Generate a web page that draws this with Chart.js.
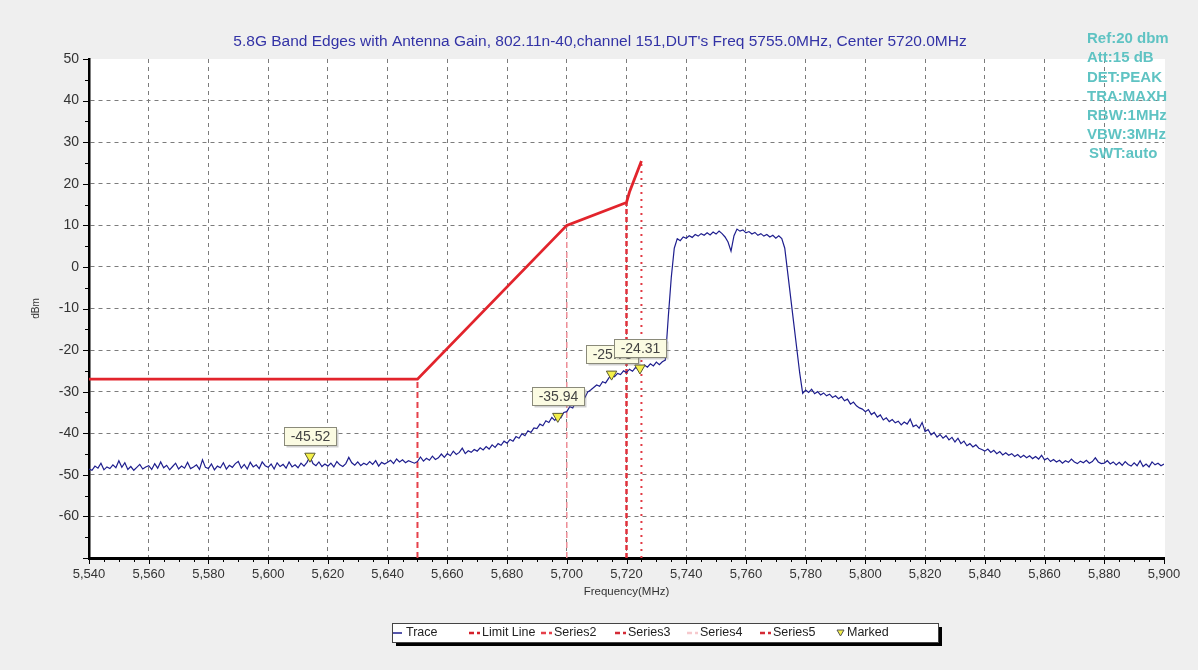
<!DOCTYPE html>
<html>
<head>
<meta charset="utf-8">
<script src="https://cdn.jsdelivr.net/npm/chart.js@4.4.1/dist/chart.umd.min.js"></script>
<style>
html, body { margin: 0; padding: 0; background: #efefef; }
#wrap { width: 1198px; height: 670px; }
</style>
</head>
<body>
<div id="wrap"><canvas id="bandChart" width="1198" height="670"></canvas></div>
<script>
// ---- data ----
var traceStart = 5540;   // MHz, first trace sample
var traceStep = 1;       // MHz between samples
var traceLevels = [
    -48.6,-48.9,-47.9,-48.4,-47.2,-48.8,-48.1,-48.5,-47.6,-48.3,-46.6,-48.2,-47.1,-48.7,-48.0,-48.9,-48.2,-47.5,-48.6,-48.1,
    -47.8,-48.7,-47.3,-48.4,-46.9,-48.3,-47.7,-48.8,-48.0,-47.2,-48.6,-47.9,-48.4,-47.0,-48.5,-48.1,-47.6,-48.7,-46.4,-48.2,
    -48.5,-47.4,-48.8,-47.9,-48.3,-47.1,-48.6,-47.7,-48.2,-47.3,-46.8,-48.4,-47.5,-48.6,-47.0,-48.1,-47.6,-48.5,-46.9,-47.8,
    -48.2,-47.4,-48.6,-47.1,-48.0,-47.5,-48.4,-46.9,-48.1,-47.6,-48.3,-47.2,-47.9,-47.0,-45.6,-47.3,-47.8,-46.9,-48.0,-47.4,
    -47.9,-47.2,-48.1,-46.8,-47.6,-48.0,-47.3,-45.8,-47.1,-47.7,-46.9,-47.8,-47.2,-47.6,-46.8,-47.5,-46.6,-47.9,-47.0,-47.4,
    -47.0,-46.5,-47.3,-46.2,-46.9,-46.4,-47.1,-46.6,-46.9,-47.2,-46.8,-45.7,-46.7,-46.0,-46.5,-45.5,-46.3,-45.9,-45.0,-45.8,
    -44.9,-45.4,-44.3,-45.1,-44.6,-43.6,-44.9,-44.2,-44.6,-43.9,-44.3,-43.5,-44.0,-43.2,-43.8,-42.8,-43.4,-42.5,-42.9,-41.9,
    -42.4,-41.5,-41.9,-40.8,-41.2,-40.1,-40.6,-39.4,-39.8,-38.7,-38.9,-37.8,-38.2,-37.0,-37.4,-36.2,-36.9,-35.9,-36.3,-35.0,
    -34.8,-33.6,-33.9,-32.5,-32.0,-31.2,-31.5,-30.1,-29.6,-29.0,-28.4,-28.7,-27.6,-27.9,-26.8,-25.8,-26.4,-25.6,-25.9,-25.0,
    -25.4,-24.6,-25.1,-24.2,-24.7,-24.3,-23.6,-24.1,-23.3,-23.8,-22.9,-23.5,-22.8,-22.4,-12.0,-2.5,4.5,6.8,6.3,7.2,
    6.9,7.5,7.1,7.8,7.4,8.0,7.6,8.2,7.7,8.4,7.9,8.6,8.0,7.2,6.0,3.8,7.5,9.1,8.6,8.9,
    8.2,8.5,7.9,8.3,7.6,8.0,7.4,7.8,7.2,7.6,6.9,7.5,6.8,4.5,-1.5,-7.5,-13.5,-19.5,-25.5,-30.4,
    -29.6,-30.2,-29.4,-30.5,-30.0,-30.8,-30.3,-31.0,-30.6,-31.4,-31.0,-31.7,-31.2,-32.2,-31.8,-33.0,-32.5,-33.4,-33.9,-34.2,
    -34.8,-34.3,-35.5,-35.0,-36.1,-35.6,-36.8,-36.3,-37.2,-36.7,-37.5,-37.1,-38.0,-37.3,-37.8,-36.6,-38.4,-38.0,-38.8,-37.4,
    -39.6,-39.1,-40.4,-39.8,-40.9,-40.3,-41.2,-40.6,-41.6,-41.0,-42.1,-41.2,-42.5,-41.9,-43.0,-42.5,-43.3,-42.8,-43.6,-43.9,
    -44.3,-43.8,-44.6,-44.1,-44.9,-44.4,-45.2,-44.7,-45.3,-44.9,-45.6,-45.1,-45.8,-45.3,-45.9,-45.4,-46.1,-45.6,-46.2,-45.3,
    -46.4,-46.0,-46.8,-46.3,-46.9,-46.5,-47.2,-46.6,-47.0,-46.2,-46.9,-47.3,-46.7,-47.1,-46.5,-47.2,-46.8,-45.9,-46.9,-47.3,
    -47.2,-46.6,-47.4,-46.9,-47.6,-47.0,-47.7,-46.8,-47.5,-47.9,-47.1,-47.8,-46.6,-48.0,-47.4,-48.1,-46.9,-47.6,-47.2,-47.8,
    -47.4
];

var limitFreqs  = [5540, 5650, 5700, 5720, 5721, 5725];
var limitLevels = [-27, -27, 10, 15.5, 18, 25.5];

// vertical band-edge lines: freq, top level
var edgeFreqs  = [5650, 5720, 5700, 5725];
var edgeTops   = [-27, 15.5, 10, 25.5];
var edgeLabels = ['Series2', 'Series3', 'Series4', 'Series5'];

var markerFreqs  = [5614, 5697, 5715, 5724.5];
var markerLevels = [-45.52, -35.94, -25.78, -24.31];

var xMin = 5540, xMax = 5900, yMin = -70, yMax = 50;

var titleText = "5.8G Band Edges with Antenna Gain, 802.11n-40,channel 151,DUT's Freq 5755.0MHz, Center 5720.0MHz";
var infoLines = ['Ref:20 dbm', 'Att:15 dB', 'DET:PEAK', 'TRA:MAXH', 'RBW:1MHz', 'VBW:3MHz', 'SWT:auto'];

var FONT = "'Liberation Sans', Arial, sans-serif";

// ---- build datasets ----
var tracePoints = traceLevels.map(function(v, i) { return { x: traceStart + i * traceStep, y: v }; });
var limitPoints = limitFreqs.map(function(f, i) { return { x: f, y: limitLevels[i] }; });

var edgeStyles = [
    { color: '#e5404a', width: 2, dash: [6, 4], icon: '#e5404a' },
    { color: '#e0313b', width: 2.5, dash: [5, 3], icon: '#d42a35' },
    { color: '#ee8f98', width: 1.5, dash: [6, 4], icon: '#f6c9cd' },
    { color: '#e23a44', width: 2, dash: [2, 5], icon: '#d42a35' }
];

var datasets = [
    {
        label: 'Trace', data: tracePoints, borderColor: '#1e1e8e', borderWidth: 1.2,
        pointRadius: 0, tension: 0, order: 1, legendIcon: 'line', legendColor: '#1e1e8e'
    },
    {
        label: 'Limit Line', data: limitPoints, borderColor: '#e2242c', borderWidth: 2.8,
        pointRadius: 0, tension: 0, order: 2, legendIcon: 'dash', legendColor: '#d41f2a'
    }
];
edgeFreqs.forEach(function(f, i) {
    datasets.push({
        label: edgeLabels[i],
        data: [{ x: f, y: yMin }, { x: f, y: edgeTops[i] }],
        borderColor: edgeStyles[i].color, borderWidth: edgeStyles[i].width, borderDash: edgeStyles[i].dash,
        pointRadius: 0, order: 3, legendIcon: 'dash', legendColor: edgeStyles[i].icon
    });
});
datasets.push({
    label: 'Marked',
    data: markerFreqs.map(function(f, i) { return { x: f, y: markerLevels[i] }; }),
    showLine: false, pointStyle: 'triangle', rotation: 180, pointRadius: 6,
    pointBackgroundColor: '#f4f04a', pointBorderColor: '#5a5a30', pointBorderWidth: 1,
    order: 0, legendIcon: 'tri', legendColor: '#f4f04a'
});

// ---- plugins ----
var frame = {
    id: 'frame',
    beforeDraw: function(chart) {
        var ctx = chart.ctx, a = chart.chartArea;
        ctx.save();
        ctx.fillStyle = '#efefef';
        ctx.fillRect(0, 0, chart.width, chart.height);
        ctx.fillStyle = '#ffffff';
        ctx.fillRect(a.left, a.top, a.right - a.left + 1, a.bottom - a.top);
        ctx.fillStyle = '#3333a6';
        ctx.font = '15.5px ' + FONT;
        ctx.textAlign = 'center';
        ctx.textBaseline = 'middle';
        ctx.fillText(titleText, 600, 42);
        ctx.restore();
    },
    afterDraw: function(chart) {
        var ctx = chart.ctx, a = chart.chartArea;
        var xs = chart.scales.x, ys = chart.scales.y;
        ctx.save();
        ctx.strokeStyle = '#000';
        ctx.lineWidth = 1;
        // minor / major tick marks
        for (var f = xMin; f <= xMax; f += 5) {
            var px = Math.round(xs.getPixelForValue(f)) + 0.5;
            var len = (f % 20 === 0) ? 5 : 3;
            ctx.beginPath(); ctx.moveTo(px, a.bottom + 1); ctx.lineTo(px, a.bottom + 1 + len); ctx.stroke();
        }
        for (var v = yMin; v <= yMax; v += 5) {
            var py = Math.round(ys.getPixelForValue(v)) + 0.5;
            var l2 = (v % 10 === 0) ? 5 : 3;
            ctx.beginPath(); ctx.moveTo(a.left - 1, py); ctx.lineTo(a.left - 1 - l2, py); ctx.stroke();
        }
        // instrument settings
        ctx.fillStyle = '#5fc3c3';
        ctx.font = 'bold 15px ' + FONT;
        ctx.textAlign = 'left';
        ctx.textBaseline = 'middle';
        infoLines.forEach(function(t, i) {
            ctx.fillText(t, i === infoLines.length - 1 ? 1089 : 1087, 39 + i * 19.2);
        });
        ctx.restore();
    }
};

var markerLabels = {
    id: 'markerLabels',
    afterDatasetsDraw: function(chart) {
        var idx = chart.data.datasets.length - 1;
        var meta = chart.getDatasetMeta(idx);
        var ctx = chart.ctx;
        ctx.save();
        ctx.font = '14px ' + FONT;
        ctx.textAlign = 'center';
        ctx.textBaseline = 'middle';
        meta.data.forEach(function(pt, i) {
            var text = markerLevels[i].toFixed(2);
            var w = Math.round(ctx.measureText(text).width + 12), h = 18;
            var bx = Math.round(pt.x - w / 2) + 0.5, by = Math.round(pt.y - 29) + 0.5;
            ctx.fillStyle = 'rgba(120,120,120,0.35)';
            ctx.fillRect(bx + 2, by + 2, w, h);
            ctx.fillStyle = '#fbfbe2';
            ctx.fillRect(bx, by, w, h);
            ctx.strokeStyle = '#8a8a7a';
            ctx.lineWidth = 1;
            ctx.strokeRect(bx, by, w, h);
            ctx.fillStyle = '#444';
            ctx.fillText(text, bx + w / 2, by + h / 2 + 0.5);
        });
        ctx.restore();
    }
};

var boxLegend = {
    id: 'boxLegend',
    afterDraw: function(chart, args, opts) {
        var ctx = chart.ctx;
        var x = opts.x, y = opts.y, w = opts.w, h = opts.h;
        ctx.save();
        ctx.fillStyle = '#000';
        ctx.fillRect(x + 4, y + 4, w, h);
        ctx.fillStyle = '#fff';
        ctx.fillRect(x, y, w, h);
        ctx.strokeStyle = '#444';
        ctx.lineWidth = 1;
        ctx.strokeRect(x + 0.5, y + 0.5, w, h);
        ctx.font = '12.5px ' + FONT;
        ctx.textBaseline = 'middle';
        ctx.textAlign = 'left';
        var cy = y + h / 2 + 0.5;
        chart.data.datasets.forEach(function(ds, i) {
            var ix = opts.cols[i];
            ctx.strokeStyle = ds.legendColor;
            ctx.fillStyle = ds.legendColor;
            if (ds.legendIcon === 'line') {
                ctx.lineWidth = 1.5;
                ctx.beginPath(); ctx.moveTo(ix, cy); ctx.lineTo(ix + 9, cy); ctx.stroke();
            } else if (ds.legendIcon === 'dash') {
                ctx.lineWidth = 2.5;
                ctx.beginPath();
                ctx.moveTo(ix, cy); ctx.lineTo(ix + 5, cy);
                ctx.moveTo(ix + 8, cy); ctx.lineTo(ix + 11, cy);
                ctx.stroke();
            } else {
                ctx.beginPath();
                ctx.moveTo(ix, cy - 3); ctx.lineTo(ix + 7, cy - 3); ctx.lineTo(ix + 3.5, cy + 3); ctx.closePath();
                ctx.fill();
                ctx.strokeStyle = '#555'; ctx.lineWidth = 1; ctx.stroke();
            }
            ctx.fillStyle = '#222';
            ctx.fillText(ds.label, ix + (ds.legendIcon === 'tri' ? 10 : 13), cy);
        });
        ctx.restore();
    }
};

new Chart(document.getElementById('bandChart'), {
    type: 'line',
    data: { datasets: datasets },
    plugins: [frame, markerLabels, boxLegend],
    options: {
        responsive: false,
        animation: false,
        devicePixelRatio: 1,
        layout: { padding: { left: 29, right: 34, top: 59, bottom: 67 } },
        plugins: {
            legend: { display: false },
            title: { display: false },
            tooltip: { enabled: false },
            boxLegend: { x: 392, y: 623, w: 546, h: 19, cols: [393, 469, 541, 615, 687, 760, 837] }
        },
        scales: {
            x: {
                type: 'linear', min: xMin, max: xMax,
                afterFit: function(s) { s.height = 45; },
                ticks: {
                    stepSize: 5, autoSkip: false, maxRotation: 0, padding: 9,
                    color: '#333', font: { size: 13, family: FONT },
                    callback: function(v) { return v % 20 === 0 ? v.toLocaleString('en-US') : ''; }
                },
                grid: {
                    drawTicks: false, lineWidth: 1,
                    color: function(c) {
                        var t = c.tick ? c.tick.value : null;
                        return (t !== null && t % 20 === 0 && t > xMin && t < xMax) ? '#7c7c7c' : 'rgba(0,0,0,0)';
                    }
                },
                border: { color: '#000', width: 3, dash: [4, 4] },
                title: { display: true, text: 'Frequency(MHz)', color: '#333', font: { size: 11.5, family: FONT }, padding: { top: 0, bottom: 4 } }
            },
            y: {
                min: yMin, max: yMax,
                afterFit: function(s) { s.width = 60; },
                ticks: {
                    stepSize: 5, autoSkip: false, padding: 10,
                    color: '#333', font: { size: 14, family: FONT },
                    callback: function(v) { return (v % 10 === 0 && v !== yMin) ? String(v) : ''; }
                },
                grid: {
                    drawTicks: false, lineWidth: 1,
                    color: function(c) {
                        var t = c.tick ? c.tick.value : null;
                        return (t !== null && t % 10 === 0 && t > yMin && t < yMax) ? '#7c7c7c' : 'rgba(0,0,0,0)';
                    }
                },
                border: { color: '#000', width: 2.5, dash: [4, 4] },
                title: { display: true, text: 'dBm', color: '#333', font: { size: 10, family: FONT }, padding: { top: 1, bottom: 0 } }
            }
        }
    }
});
</script>
</body>
</html>
